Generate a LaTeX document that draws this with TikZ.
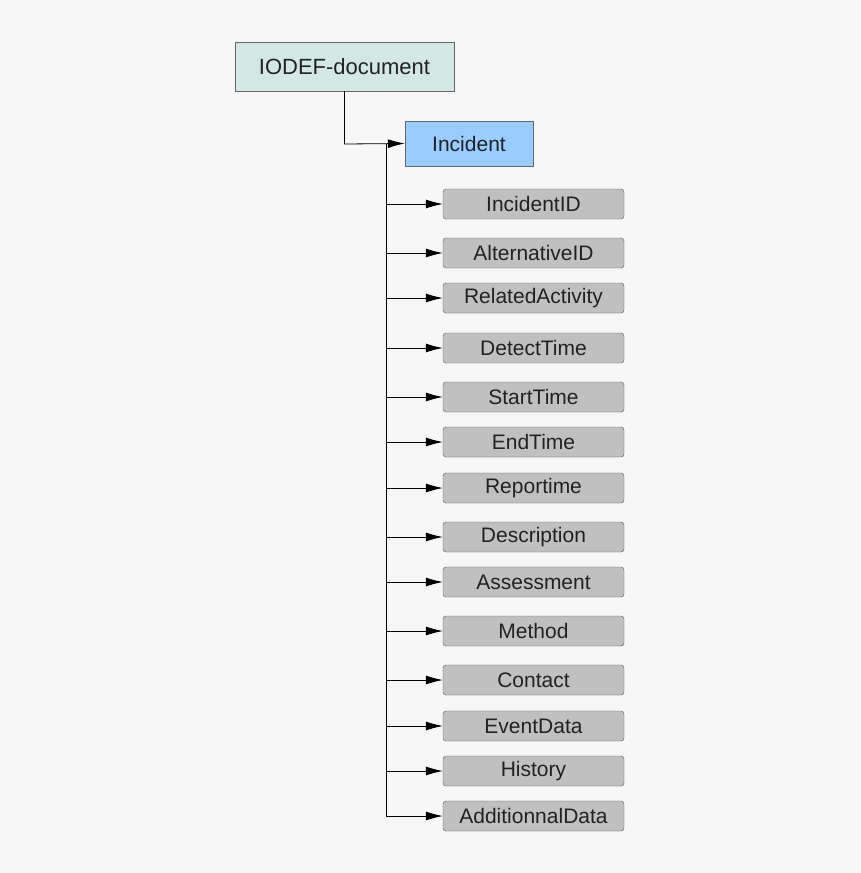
\documentclass[tikz,border=0pt]{standalone}
\usepackage{fontspec}
\setmainfont{Liberation Sans}
\usetikzlibrary{positioning,arrows.meta}
\definecolor{bgc}{HTML}{F7F7F7}
\definecolor{docc}{HTML}{D2E8E4}
\definecolor{incc}{HTML}{99CCFF}
\definecolor{elc}{HTML}{C0C0C0}
\definecolor{txtc}{HTML}{222222}
\tikzset{docbox/.style={draw=gray!80!black,fill=docc,minimum width=219pt,minimum height=49pt,inner sep=0pt,text=txtc,font=\fontsize{22}{26}\selectfont},
	 incbox/.style={draw=gray!80!black,fill=incc,minimum width=128pt,minimum height=45pt,inner sep=0pt,text=txtc,font=\fontsize{21}{25}\selectfont},
	 elbox/.style={draw=gray!70!black,fill=elc,rounded corners=3pt,minimum width=181pt,minimum height=30pt,inner sep=0pt,text=txtc,font=\fontsize{21}{25}\selectfont},
	 link/.style={-{Latex[length=17pt,width=9pt]},line width=0.8pt}
	 }
\begin{document}
\begin{tikzpicture}[x=1pt,y=-1pt]
	\fill[bgc] (0,0) rectangle (860,873);
	\node[docbox] (doc) at (344.5,66.5) {IODEF-document};
	\node[incbox] (inc) at (469,143.5) {Incident};
	\coordinate (bend) at (344.5,144);
	\coordinate (top) at (386,144);
	\draw[link] (doc.south) -- (bend) -- (inc.west);
	\foreach \name/\txt/\y [count=\i] in {
		iid/IncidentID/204, aid/AlternativeID/253, rel/RelatedActivity/298,
		det/DetectTime/348, sta/StartTime/397, end/EndTime/442,
		rep/Reportime/488, des/Description/537, ass/Assessment/582,
		met/Method/631, con/Contact/680, evd/EventData/726,
		his/History/771, add/AdditionnalData/816}{
		\node[elbox] (\name) at (533.5,\y) {\txt};
		\coordinate (s\i) at (386,\y);
		\draw[link] (s\i) -- (\name.west);
	}
	\draw[line width=0.8pt] (top) -- (s14);
\end{tikzpicture}
\end{document}
